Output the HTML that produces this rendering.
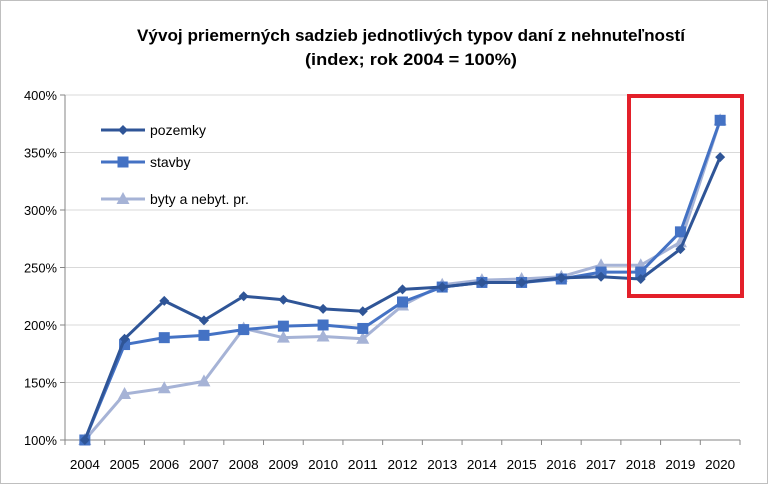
<!DOCTYPE html>
<html><head><meta charset="utf-8"><style>
body{margin:0;background:#fff}
svg{display:block;font-family:"Liberation Sans",sans-serif}
</style></head><body>
<svg width="768" height="484" viewBox="0 0 768 484">
<rect x="0.5" y="0.5" width="767" height="483" fill="#fff" stroke="#bfbfbf"/>
<text x="411" y="41" text-anchor="middle" font-size="17" font-weight="bold" textLength="548" lengthAdjust="spacingAndGlyphs" fill="#000">Vývoj priemerných sadzieb jednotlivých typov daní z nehnuteľností</text>
<text x="411" y="65" text-anchor="middle" font-size="17" font-weight="bold" textLength="212" lengthAdjust="spacingAndGlyphs" fill="#000">(index; rok 2004 = 100%)</text>
<g id="grid"></g>
<g id="axes"></g>
<g id="series"></g>
<g id="legend"></g>
<rect x="629" y="96" width="113" height="200" fill="none" stroke="#e3202a" stroke-width="4"/>
</svg>
<script>
const categories=["2004","2005","2006","2007","2008","2009","2010","2011","2012","2013","2014","2015","2016","2017","2018","2019","2020"];
const pozemky=[100,188,221,204,225,222,214,212,231,233,237,237,241,242,240,266,346];
const stavby=[100,183,189,191,196,199,200,197,220,233,237,237,240,246,246,281,378];
const byty=[100,140,145,151,197,189,190,188,217,235,239,240,242,252,252,272,378];
const yTicks=[100,150,200,250,300,350,400];
const yTickLabels=["100%","150%","200%","250%","300%","350%","400%"];
const seriesNames=["pozemky","stavby","byty a nebyt. pr."];

const NS="http://www.w3.org/2000/svg";
const x0=65,x1=740,yB=440,yT=95,vMin=100,vMax=400;
const band=(x1-x0)/categories.length;
function xPos(i){return x0+band*(i+0.5);}
function yPos(v){return yB-(v-vMin)/(vMax-vMin)*(yB-yT);}
function mk(tag,attrs,parent){const e=document.createElementNS(NS,tag);for(const k in attrs)e.setAttribute(k,attrs[k]);parent.appendChild(e);return e;}
const grid=document.getElementById('grid'),axes=document.getElementById('axes'),ser=document.getElementById('series'),leg=document.getElementById('legend');

yTicks.forEach((v,i)=>{
  const y=yPos(v);
  if(i>0){const g=mk('line',{x1:x0,x2:x1,y1:y,y2:y,stroke:'#d9d9d9','stroke-width':1},grid);
  
  }
  const t=mk('line',{x1:x0-5,x2:x0,y1:y,y2:y,stroke:'#868686'},axes);
  
  
  const l=mk('text',{x:x0-8,y:y+5,'text-anchor':'end','font-size':13,fill:'#000',textLength:33,lengthAdjust:'spacingAndGlyphs'},axes);
  l.textContent=yTickLabels[i];
  
  
});
const ya=mk('line',{x1:x0,x2:x0,y1:yT,y2:yB,stroke:'#868686'},axes);


const xa=mk('line',{x1:x0,x2:x1,y1:yB,y2:yB,stroke:'#868686'},axes);


for(let i=0;i<=categories.length;i++){
  const t=mk('line',{x1:x0+band*i,x2:x0+band*i,y1:yB,y2:yB+5,stroke:'#868686'},axes);
  
  
}
categories.forEach((c,i)=>{
  const l=mk('text',{x:xPos(i),y:yB+29,'text-anchor':'middle','font-size':13,fill:'#000',textLength:30,lengthAdjust:'spacingAndGlyphs'},axes);
  l.textContent=c;
  
  
});

function marker(type,cx,cy,color,parent,name){
  let e;
  if(type==='diamond') e=mk('polygon',{points:`${cx},${cy-5} ${cx+5},${cy} ${cx},${cy+5} ${cx-5},${cy}`,fill:color},parent);
  else if(type==='square') e=mk('rect',{x:cx-5.5,y:cy-5.5,width:11,height:11,fill:color},parent);
  else e=mk('polygon',{points:`${cx},${cy-7} ${cx+6.5},${cy+5} ${cx-6.5},${cy+5}`,fill:color},parent);
  
  
}
const defs=[
  {data:byty,color:'#a6b3d6',type:'triangle',key:'byty'},
  {data:stavby,color:'#4472c4',type:'square',key:'stavby'},
  {data:pozemky,color:'#2f5597',type:'diamond',key:'pozemky'}
];
defs.forEach(d=>{
  const g=mk('g',{},ser);
  
  
  const pts=d.data.map((v,i)=>xPos(i)+','+yPos(v)).join(' ');
  const pl=mk('polyline',{points:pts,fill:'none',stroke:d.color,'stroke-width':3,'stroke-linejoin':'round'},g);
  
  
  d.data.forEach((v,i)=>marker(d.type,xPos(i),yPos(v),d.color,g,'point-'+d.key+'-'+categories[i]));
});
const legDefs=[defs[2],defs[1],defs[0]];
const legY=[130,162,199];
legDefs.forEach((d,i)=>{
  const g=mk('g',{},leg);
  
  
  const ln=mk('line',{x1:101,x2:145,y1:legY[i],y2:legY[i],stroke:d.color,'stroke-width':3},g);
  
  
  marker(d.type,123,legY[i],d.color,g,'legend-marker-'+d.key);
  const t=mk('text',{x:150,y:legY[i]+5,'font-size':14,fill:'#000'},g);
  t.textContent=seriesNames[i];
  
  
});
</script>
</body></html>
